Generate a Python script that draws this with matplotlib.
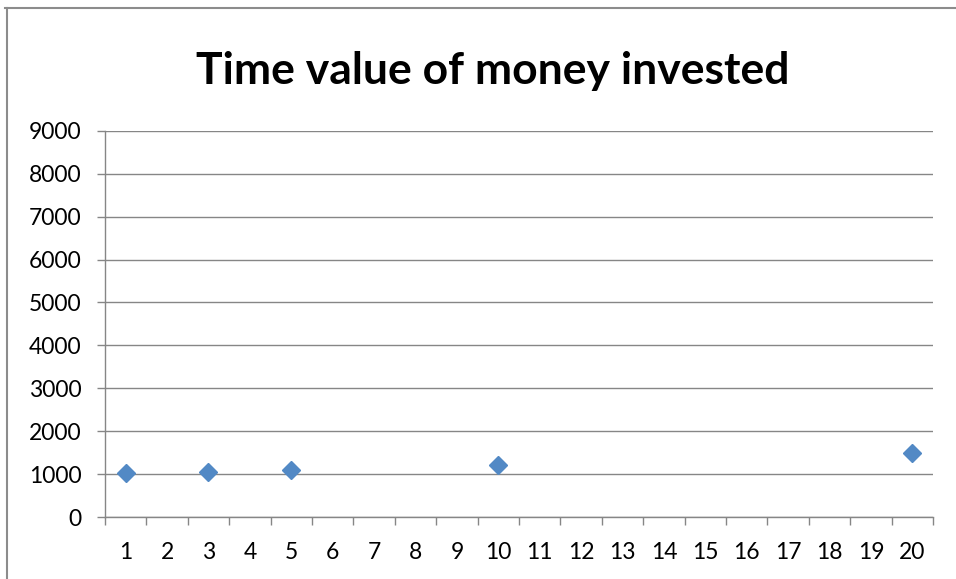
import numpy as np
import matplotlib
matplotlib.use("Agg")
import matplotlib.pyplot as plt
from matplotlib.lines import Line2D

plt.rcParams['font.family'] = ['Lato', 'DejaVu Sans']

# data
years = [1, 3, 5, 10, 20]
values = [1020, 1061, 1104, 1219, 1486]
categories = [str(i) for i in range(1, 21)]
yticks = list(range(0, 10000, 1000))

grey = "#868686"

fig = plt.figure(figsize=(9.56, 5.79), dpi=100)
ax = fig.add_axes([0.1098, 0.107, 0.976 - 0.1098, 0.774 - 0.107])

ax.plot(years, values, linestyle="none", marker="D", markersize=9.5,
        color="#5289C5", markeredgecolor="#5289C5", zorder=3)

ax.set_xlim(0.5, 20.5)
ax.set_ylim(0, 9000)

# category labels in the middle, tick marks between categories
ax.set_xticks(range(1, 21))
ax.set_xticklabels(categories, fontsize=16.5)
ax.set_xticks(np.arange(0.5, 21, 1), minor=True)
ax.tick_params(axis="x", which="major", length=0, pad=18)
ax.tick_params(axis="x", which="minor", length=6, color=grey, width=1)

ax.set_yticks(yticks)
ax.set_yticklabels([str(v) for v in yticks], fontsize=16.5)
ax.tick_params(axis="y", length=6, color=grey, width=1, pad=11)

ax.yaxis.grid(True, color=grey, linewidth=1)
ax.set_axisbelow(True)
for s in ["top", "right"]:
    ax.spines[s].set_visible(False)
for s in ["left", "bottom"]:
    ax.spines[s].set_color(grey)
    ax.spines[s].set_linewidth(1)

fig.text(0.515, 0.878, "Time value of money invested", ha="center", va="center",
         fontsize=32, fontweight="bold")

# outer chart border (only top and left visible)
fig.add_artist(Line2D([5 / 956, 1], [1 - 8 / 579, 1 - 8 / 579],
                      transform=fig.transFigure, color="#8c8c8c", linewidth=1.5))
fig.add_artist(Line2D([7 / 956, 7 / 956], [0, 1 - 8 / 579],
                      transform=fig.transFigure, color="#8c8c8c", linewidth=1.5))

fig.savefig("out.png", dpi=100)
